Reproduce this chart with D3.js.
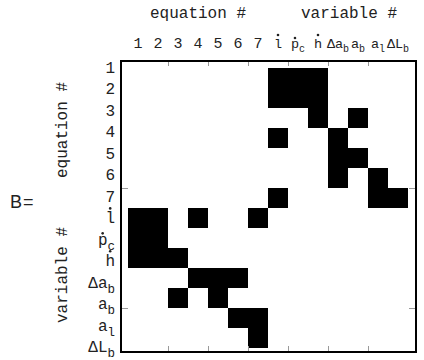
<!DOCTYPE html>
<html>
<head>
<meta charset="utf-8">
<script src="https://cdn.jsdelivr.net/npm/d3@7"></script>
<style>
  body { margin: 0; background: #fff; }
  text { font-family: "Liberation Mono", "DejaVu Sans Mono", monospace; fill: #222; }
</style>
</head>
<body>
<svg width="424" height="360"></svg>
<script>
// labels, "_" starts a subscript, \u0307 puts a dot over the letter before it
var colLabels = ["1","2","3","4","5","6","7","l\u0307","p\u0307_c","h\u0307","\u0394a_b","a_b","a_l","\u0394L_b"];
var rowLabels = ["1","2","3","4","5","6","7","l\u0307","p\u0307_c","h\u0307","\u0394a_b","a_b","a_l","\u0394L_b"];
// nonzero columns (1-based) of each row of B
var pattern = [
  [8,9,10],
  [8,9,10],
  [10,12],
  [8,11],
  [11,12],
  [11,13],
  [8,13,14],
  [1,2,4,7],
  [1,2],
  [1,2,3],
  [4,5,6],
  [3,5],
  [6,7],
  [7]
];
var xTicks = [2,4,6,8,10,12];
var yTicks = [6,12];

var svg = d3.select('svg');
svg.append('rect').attr('width',424).attr('height',360).attr('fill','white');

var n = colLabels.length;
// cell i spans [i, i+1]
var x = d3.scaleLinear().domain([-0.35, 14.4]).range([121, 416]);
var y = d3.scaleLinear().domain([-0.35, 14.2]).range([61, 352]);

var cells = [];
pattern.forEach(function(cols, r){
  cols.forEach(function(c){ cells.push({r:r, c:c-1}); });
});

svg.append('g').selectAll('rect').data(cells).enter().append('rect')
  .attr('x', function(d){ return x(d.c); })
  .attr('y', function(d){ return y(d.r); })
  .attr('width', x(1)-x(0))
  .attr('height', y(1)-y(0))
  .attr('fill','black')
  .attr('shape-rendering','crispEdges');

// ticks (inward, no labels)
function ticks(g){ g.select('.domain').remove(); g.selectAll('line').attr('stroke','#999'); }
svg.append('g').attr('transform','translate(0,'+y.range()[0]+')')
  .call(d3.axisTop(x).tickValues(xTicks).tickSize(-5).tickFormat('')).call(ticks);
svg.append('g').attr('transform','translate(0,'+y.range()[1]+')')
  .call(d3.axisBottom(x).tickValues(xTicks).tickSize(-6).tickFormat('')).call(ticks);
svg.append('g').attr('transform','translate('+x.range()[0]+',0)')
  .call(d3.axisLeft(y).tickValues(yTicks).tickSize(-7).tickFormat('')).call(ticks);
svg.append('g').attr('transform','translate('+x.range()[1]+',0)')
  .call(d3.axisRight(y).tickValues(yTicks).tickSize(-7).tickFormat('')).call(ticks);

// frame
svg.append('rect')
  .attr('x', x.range()[0]).attr('y', y.range()[0])
  .attr('width', x.range()[1]-x.range()[0]).attr('height', y.range()[1]-y.range()[0])
  .attr('fill','none').attr('stroke','black').attr('stroke-width',2);

function label(numSize, size, subSize, shift){
  return function(sel){
    sel.each(function(d){
      var dot = d.indexOf('\u0307');
      var parts = d.replace('\u0307','').split('_');
      var fs = /^\d+$/.test(d) ? numSize : size;
      var t = d3.select(this).attr('font-size', fs);
      t.append('tspan').text(parts[0]);
      if (parts.length > 1) {
        t.append('tspan').attr('dy',shift).attr('font-size',subSize).text(parts[1]);
      }
      if (dot > 0) {
        var b = this.getExtentOfChar(dot-1);
        var top = parts[0][dot-1] === 'p' ? y0(this) - fs*0.52 : y0(this) - fs*0.74;
        d3.select(this.parentNode).append('circle')
          .attr('cx', b.x + b.width/2).attr('cy', top - 3).attr('r', 1.3).attr('fill','#222');
      }
    });
  };
}
function y0(node){ return +node.getAttribute('y'); }

// column labels
svg.append('g').selectAll('text').data(colLabels).enter().append('text')
  .attr('x', function(d,i){ return (x(i)+x(i+1))/2; })
  .attr('y', 48)
  .attr('text-anchor','middle')
  .call(label(15, 13.5, 10, 4));

// row labels, stacked like lines of text
var yl = d3.scalePoint().domain(d3.range(n)).range([73, 352]);
svg.append('g').selectAll('text').data(rowLabels).enter().append('text')
  .attr('x', 115)
  .attr('y', function(d,i){ return yl(i); })
  .attr('text-anchor','end')
  .call(label(16, 16, 12.5, 5));

svg.append('text').attr('x',198).attr('y',18).attr('text-anchor','middle').attr('font-size',16).text('equation #');
svg.append('text').attr('x',349).attr('y',18).attr('text-anchor','middle').attr('font-size',16).text('variable #');
svg.append('text').attr('transform','translate(67,130) rotate(-90)').attr('text-anchor','middle').attr('font-size',16).text('equation #');
svg.append('text').attr('transform','translate(67,275) rotate(-90)').attr('text-anchor','middle').attr('font-size',16).text('variable #');

svg.append('text').attr('x',10).attr('y',208)
  .style('font-family','"Liberation Sans", sans-serif')
  .attr('font-size',18).attr('letter-spacing',1).text('B=');
</script>
</body>
</html>
